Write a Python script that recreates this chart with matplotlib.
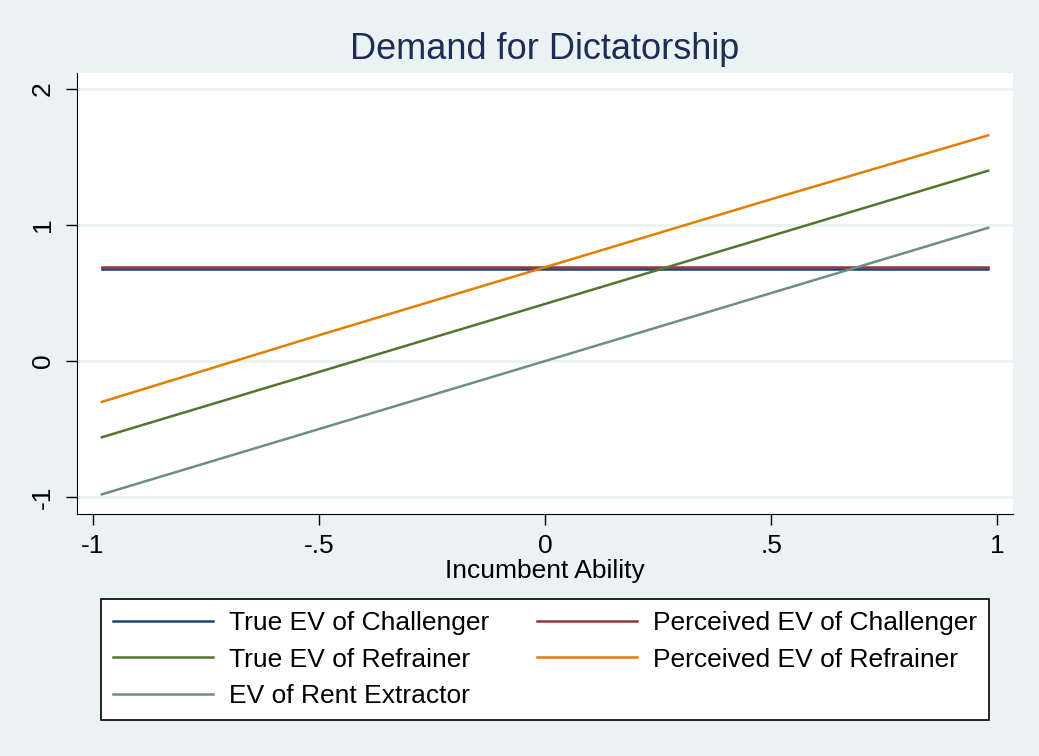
from matplotlib import pyplot as plt
import numpy as np

plt.rcParams['font.family'] = ['Liberation Sans', 'DejaVu Sans']

# values
ability = [-0.98, -0.5, 0.0, 0.5, 0.98]
true_challenger = [0.68, 0.68, 0.68, 0.68, 0.68]
perc_challenger = [0.69, 0.69, 0.69, 0.69, 0.69]
true_refrainer = [-0.56, -0.08, 0.42, 0.92, 1.40]
perc_refrainer = [-0.30, 0.19, 0.69, 1.19, 1.66]
rent_extractor = [-0.98, -0.50, 0.00, 0.50, 0.98]

labels = ["True EV of Challenger", "Perceived EV of Challenger",
          "True EV of Refrainer", "Perceived EV of Refrainer",
          "EV of Rent Extractor"]
colors = ["#1a476f", "#90353b", "#55752f", "#e37e00", "#6e8e84"]

xticks = [-1, -0.5, 0, 0.5, 1]
xticklabels = ["-1", "-.5", "0", ".5", "1"]
yticks = [-1, 0, 1, 2]

bg = "#eaf2f3"

fig = plt.figure(figsize=(10.39, 7.56), dpi=100, facecolor=bg)
ax = fig.add_axes([0.0741, 0.320, 0.9009, 0.5834])
ax.set_facecolor("white")

series = [true_challenger, perc_challenger, true_refrainer, perc_refrainer, rent_extractor]
handles = []
for ys, lab, c in zip(series, labels, colors):
    h, = ax.plot(ability, ys, color=c, lw=1.8, label=lab, zorder=3)
    handles.append(h)

ax.set_xlim(-1.035, 1.035)
ax.set_ylim(-1.125, 2.118)
ax.set_xticks(xticks)
ax.set_xticklabels(xticklabels)
ax.set_yticks(yticks)
ax.set_yticklabels([str(t) for t in yticks], rotation=90, va="center")
ax.tick_params(labelsize=19, length=8, width=1, direction="out", pad=6)
ax.tick_params(axis="y", pad=8)
ax.yaxis.grid(True, color=bg, lw=2, zorder=0)

for s in ["top", "right"]:
    ax.spines[s].set_visible(False)

ax.set_xlabel("Incumbent Ability", fontsize=19, labelpad=1)
ax.set_title("Demand for Dictatorship", fontsize=26, color="#1e2d53", pad=10)

# order: row-wise in two columns
order = [0, 2, 4, 1, 3]
leg = fig.legend([handles[i] for i in order], [labels[i] for i in order],
                 ncol=2, loc="upper left", mode="expand",
                 bbox_to_anchor=(101 / 1039, 1 - 599 / 756, 888 / 1039, 0.0),
                 fontsize=19, frameon=True, fancybox=False, edgecolor="black",
                 framealpha=1, facecolor="white",
                 handlelength=3.8, columnspacing=1.0, labelspacing=0.48,
                 borderpad=0.45, handletextpad=0.6, borderaxespad=0)
leg.get_frame().set_linewidth(1.2)

fig.savefig("out.png", dpi=100, facecolor=bg)
